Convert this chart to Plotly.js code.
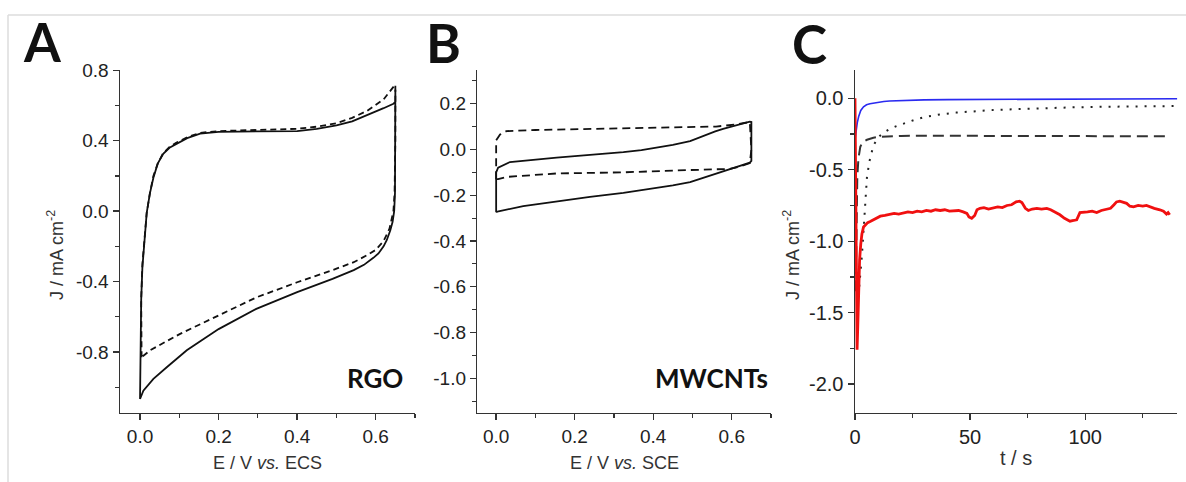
<!DOCTYPE html>
<html>
<head>
<meta charset="utf-8">
<script src="https://cdn.plot.ly/plotly-3.0.1.min.js"></script>
<style>
  html, body { margin: 0; padding: 0; background: #fff; }
  #chart { width: 1186px; height: 482px; }
</style>
</head>
<body>
<div id="chart"></div>
<script>
// ---------- Panel A (RGO) cyclic voltammograms ----------
const rgoSolidE = [0, 0.001, 0.003, 0.006, 0.012, 0.017, 0.025, 0.034, 0.045, 0.059, 0.075, 0.093, 0.12, 0.153, 0.2, 0.25, 0.3, 0.35, 0.4, 0.45, 0.5, 0.54, 0.578, 0.62, 0.645, 0.65,
                   0.65, 0.65, 0.649, 0.647, 0.643, 0.637, 0.628, 0.62, 0.607, 0.594, 0.57, 0.544, 0.49, 0.4, 0.296, 0.2, 0.119, 0.068, 0.034, 0.0085, 0];
const rgoSolidJ = [-1.067, -0.8, -0.5, -0.32, -0.12, -0.01, 0.1, 0.19, 0.27, 0.326, 0.36, 0.383, 0.415, 0.44, 0.45, 0.452, 0.452, 0.452, 0.455, 0.468, 0.487, 0.51, 0.544, 0.585, 0.61, 0.62,
                   0.69, 0.3, 0.1, 0.0, -0.06, -0.11, -0.165, -0.2, -0.24, -0.265, -0.305, -0.335, -0.385, -0.46, -0.555, -0.67, -0.79, -0.887, -0.953, -1.02, -1.067];
const rgoDashE = [0.004, 0.003, 0.006, 0.012, 0.017, 0.025, 0.034, 0.045, 0.059, 0.075, 0.093, 0.12, 0.153, 0.2, 0.25, 0.3, 0.35, 0.4, 0.45, 0.5, 0.54, 0.578, 0.62, 0.65,
                  0.65, 0.648, 0.645, 0.635, 0.62, 0.6, 0.578, 0.544, 0.49, 0.4, 0.296, 0.2, 0.102, 0.026, 0.004];
const rgoDashJ = [-0.83, -0.5, -0.3, -0.12, -0.01, 0.1, 0.2, 0.27, 0.33, 0.365, 0.39, 0.42, 0.445, 0.455, 0.458, 0.46, 0.462, 0.468, 0.48, 0.5, 0.53, 0.57, 0.635, 0.72,
                  0.4, 0.1, 0.0, -0.1, -0.17, -0.22, -0.25, -0.29, -0.335, -0.404, -0.49, -0.593, -0.697, -0.79, -0.83];

// ---------- Panel B (MWCNTs) cyclic voltammograms ----------
const cntSolidE = [0, 0, 0.005, 0.035, 0.154, 0.24, 0.324, 0.37, 0.409, 0.45, 0.494, 0.515, 0.536, 0.558, 0.578, 0.6, 0.62, 0.646, 0.65, 0.65, 0.646, 0.62, 0.578, 0.536, 0.494, 0.45, 0.409, 0.324, 0.239, 0.154, 0.069, 0.006, 0];
const cntSolidJ = [-0.274, -0.1, -0.08, -0.055, -0.036, -0.025, -0.012, -0.003, 0.007, 0.02, 0.036, 0.05, 0.066, 0.079, 0.09, 0.1, 0.11, 0.121, 0.12, -0.05, -0.058, -0.073, -0.095, -0.12, -0.143, -0.157, -0.168, -0.19, -0.207, -0.226, -0.248, -0.27, -0.274];
const cntDashE = [0, 0, 0.01, 0.026, 0.1, 0.239, 0.4, 0.494, 0.56, 0.612, 0.646, 0.65, 0.646, 0.62, 0.595, 0.494, 0.324, 0.154, 0.026, 0.005, 0];
const cntDashJ = [-0.13, 0.04, 0.065, 0.08, 0.085, 0.09, 0.093, 0.097, 0.1, 0.109, 0.12, 0.0, -0.06, -0.075, -0.085, -0.09, -0.1, -0.105, -0.12, -0.13, -0.13];

// ---------- Panel C chronoamperometry ----------
const blueT = [0, 0.5, 1, 1.6, 2.5, 3.7, 5, 6.5, 8, 10, 12.5, 15, 20, 25, 30, 40, 50, 65, 80, 100, 120, 140];
const blueJ = [-0.29, -0.22, -0.17, -0.128, -0.085, -0.059, -0.045, -0.038, -0.033, -0.027, -0.022, -0.019, -0.015, -0.013, -0.011, -0.009, -0.008, -0.006, -0.005, -0.004, -0.003, -0.003];

const redT = [0, 0.3, 0.6, 0.9, 1.2, 1.6, 2.0, 2.5, 3.0, 3.7, 4.5, 5.5, 6.6, 8, 9.5, 11, 13, 15, 17, 19, 21, 23, 25, 27, 29, 31, 33, 35, 37, 39, 41, 43, 45, 47, 48.6, 49.5, 50.7, 52, 53, 54.3,
              56, 58, 60, 62, 64, 66, 68, 70, 71.5, 72.5, 74, 75.3, 77, 79, 81, 83.3, 85, 87.6, 89, 91, 93.4, 95, 96.3, 97.7, 99, 101, 103, 105, 107, 109.3, 111, 112.5, 113.6, 115, 116.5,
              118, 119.4, 121, 123, 125, 126.6, 128, 130, 132.4, 134, 135.3, 136, 136.7];
const redJ = [0, -0.6, -1.3, -1.76, -1.6, -1.3, -1.13, -1.02, -0.95, -0.9, -0.885, -0.87, -0.862, -0.85, -0.835, -0.825, -0.82, -0.81, -0.805, -0.81, -0.8, -0.795, -0.8, -0.79, -0.795, -0.785,
              -0.79, -0.78, -0.785, -0.78, -0.79, -0.785, -0.785, -0.795, -0.805, -0.83, -0.84, -0.82, -0.78, -0.77, -0.765, -0.775, -0.77, -0.76, -0.765, -0.75, -0.745, -0.725, -0.72, -0.73,
              -0.77, -0.785, -0.775, -0.77, -0.775, -0.77, -0.78, -0.8, -0.815, -0.84, -0.86, -0.855, -0.85, -0.8, -0.8, -0.795, -0.79, -0.8, -0.785, -0.775, -0.77, -0.745, -0.725, -0.72,
              -0.73, -0.735, -0.755, -0.76, -0.75, -0.755, -0.75, -0.76, -0.77, -0.78, -0.79, -0.81, -0.8, -0.815];

const dotT = [1.5, 2, 2.5, 3, 3.5, 4, 4.5, 5.2, 6.3, 7, 8, 9.5, 11, 13, 15, 18, 22.5, 26, 31, 36, 44, 52, 60, 70, 80, 95, 110, 125, 140];
const dotJ = [-1.38, -1.3, -1.2, -1.1, -0.98, -0.84, -0.7, -0.55, -0.44, -0.39, -0.33, -0.29, -0.26, -0.235, -0.215, -0.195, -0.171, -0.15, -0.129, -0.115, -0.1, -0.09, -0.082, -0.076, -0.07, -0.063, -0.059, -0.056, -0.054];

const dashT = [0.3, 0.5, 0.7, 1, 1.5, 2.3, 3, 4, 5.2, 6.5, 8, 10, 15, 20, 30, 40, 60, 80, 100, 120, 137];
const dashJ = [-1.35, -1.1, -0.8, -0.55, -0.42, -0.34, -0.315, -0.3, -0.29, -0.282, -0.276, -0.271, -0.265, -0.263, -0.262, -0.262, -0.263, -0.263, -0.264, -0.265, -0.266];

// ---------- tick labels ----------
const tickA_y = [0.8, 0.4, 0.0, -0.4, -0.8];
const tickA_yText = ['0.8', '0.4', '0.0', '-0.4', '-0.8'];
const tickE = [0, 0.2, 0.4, 0.6];
const tickE_text = ['0.0', '0.2', '0.4', '0.6'];
const tickB_y = [0.2, 0.0, -0.2, -0.4, -0.6, -0.8, -1.0];
const tickB_yText = ['0.2', '0.0', '-0.2', '-0.4', '-0.6', '-0.8', '-1.0'];
const tickC_y = [0.0, -0.5, -1.0, -1.5, -2.0];
const tickC_yText = ['0.0', '-0.5', '-1.0', '-1.5', '-2.0'];
const tickC_x = [0, 50, 100];
const tickC_xText = ['0', '50', '100'];

// ---------- layout helpers ----------
const W = 1186, H = 482;
const px = v => v / W;
const py = v => 1 - v / H;
const axisColor = '#333';
const tickFont = { family: 'Liberation Sans, Arial, sans-serif', size: 19, color: '#222' };
const titleFont = { family: 'Liberation Sans, Arial, sans-serif', size: 18, color: '#333' };
const labelFont = { family: 'Lato, Open Sans, sans-serif', size: 53, color: '#111', weight: 'bold' };
const tagFont = { family: 'Lato, Open Sans, sans-serif', size: 26, color: '#111', weight: 'bold' };

function baseAxis(extra) {
  return Object.assign({
    showline: true, linecolor: axisColor, linewidth: 1.5, mirror: false,
    showgrid: false, zeroline: false,
    ticks: 'outside', ticklen: 6, tickwidth: 1.4, tickcolor: axisColor,
    tickfont: tickFont, fixedrange: true
  }, extra);
}

const traces = [
  { x: rgoSolidE, y: rgoSolidJ, xaxis: 'x', yaxis: 'y', mode: 'lines', line: { color: '#111', width: 1.8 }, hoverinfo: 'skip' },
  { x: rgoDashE, y: rgoDashJ, xaxis: 'x', yaxis: 'y', mode: 'lines', line: { color: '#111', width: 1.8, dash: '6px,4px' }, hoverinfo: 'skip' },
  { x: cntSolidE, y: cntSolidJ, xaxis: 'x2', yaxis: 'y2', mode: 'lines', line: { color: '#111', width: 1.8 }, hoverinfo: 'skip' },
  { x: cntDashE, y: cntDashJ, xaxis: 'x2', yaxis: 'y2', mode: 'lines', line: { color: '#111', width: 1.8, dash: '8px,5px' }, hoverinfo: 'skip' },
  { x: dotT, y: dotJ, xaxis: 'x3', yaxis: 'y3', mode: 'lines', line: { color: '#222', width: 2, dash: '2px,7px' }, hoverinfo: 'skip' },
  { x: dashT, y: dashJ, xaxis: 'x3', yaxis: 'y3', mode: 'lines', line: { color: '#333', width: 2, dash: '11px,6px' }, hoverinfo: 'skip' },
  { x: blueT, y: blueJ, xaxis: 'x3', yaxis: 'y3', mode: 'lines', line: { color: '#2a2af0', width: 1.6 }, hoverinfo: 'skip' },
  { x: redT, y: redJ, xaxis: 'x3', yaxis: 'y3', mode: 'lines', line: { color: '#f01010', width: 2.8 }, hoverinfo: 'skip' }
];

const layout = {
  width: W, height: H,
  margin: { l: 0, r: 0, t: 0, b: 0 },
  paper_bgcolor: '#fff', plot_bgcolor: 'rgba(0,0,0,0)',
  showlegend: false,
  xaxis: baseAxis({ domain: [px(120), px(415)], anchor: 'y', range: [-0.051, 0.70], tickvals: tickE, ticktext: tickE_text,
                    minor: { ticks: 'outside', ticklen: 4, tickwidth: 1.2, tickcolor: axisColor, dtick: 0.1, tick0: 0 } }),
  yaxis: baseAxis({ domain: [py(412.7), py(70)], anchor: 'x', range: [-1.145, 0.802], tickvals: tickA_y, ticktext: tickA_yText,
                    minor: { ticks: 'outside', ticklen: 4, tickwidth: 1.2, tickcolor: axisColor, dtick: 0.2, tick0: 0 } }),
  xaxis2: baseAxis({ domain: [px(477.3), px(771)], anchor: 'y2', range: [-0.048, 0.70], tickvals: tickE, ticktext: tickE_text,
                    minor: { ticks: 'outside', ticklen: 4, tickwidth: 1.2, tickcolor: axisColor, dtick: 0.1, tick0: 0 } }),
  yaxis2: baseAxis({ domain: [py(412.7), py(70)], anchor: 'x2', range: [-1.15, 0.347], tickvals: tickB_y, ticktext: tickB_yText,
                    minor: { ticks: 'outside', ticklen: 4, tickwidth: 1.2, tickcolor: axisColor, dtick: 0.1, tick0: 0 } }),
  xaxis3: baseAxis({ domain: [px(855), px(1177.3)], anchor: 'y3', range: [0, 140], tickvals: tickC_x, ticktext: tickC_xText,
                    tickfont: Object.assign({}, tickFont, { size: 20 }),
                    minor: { ticks: 'outside', ticklen: 4, tickwidth: 1.2, tickcolor: axisColor, dtick: 25, tick0: 0 } }),
  yaxis3: baseAxis({ domain: [py(412.7), py(70)], anchor: 'x3', range: [-2.2, 0.198], tickvals: tickC_y, ticktext: tickC_yText,
                    tickfont: Object.assign({}, tickFont, { size: 20 }),
                    minor: { ticks: 'outside', ticklen: 4, tickwidth: 1.2, tickcolor: axisColor, dtick: 0.25, tick0: 0 } }),
  shapes: [
    { type: 'line', xref: 'paper', yref: 'paper', x0: px(8), x1: 1, y0: py(15), y1: py(15), line: { color: '#dcdcdc', width: 1.5 } },
    { type: 'line', xref: 'paper', yref: 'paper', x0: px(8), x1: px(8), y0: py(15), y1: 0, line: { color: '#dcdcdc', width: 1.5 } }
  ],
  annotations: [
    { text: 'A', x: px(42), y: py(41), xref: 'paper', yref: 'paper', xanchor: 'center', yanchor: 'middle', showarrow: false, font: labelFont },
    { text: 'B', x: px(443), y: py(42), xref: 'paper', yref: 'paper', xanchor: 'center', yanchor: 'middle', showarrow: false, font: labelFont },
    { text: 'C', x: px(809), y: py(43), xref: 'paper', yref: 'paper', xanchor: 'center', yanchor: 'middle', showarrow: false, font: labelFont },
    { text: 'RGO', x: px(375), y: py(378), xref: 'paper', yref: 'paper', xanchor: 'center', yanchor: 'middle', showarrow: false, font: tagFont },
    { text: 'MWCNTs', x: px(711), y: py(378), xref: 'paper', yref: 'paper', xanchor: 'center', yanchor: 'middle', showarrow: false, font: tagFont },
    { text: 'J / mA cm<sup>-2</sup>', x: px(55), y: py(255), xref: 'paper', yref: 'paper', xanchor: 'center', yanchor: 'middle', textangle: -90, showarrow: false, font: titleFont },
    { text: 'J / mA cm<sup>-2</sup>', x: px(791), y: py(255), xref: 'paper', yref: 'paper', xanchor: 'center', yanchor: 'middle', textangle: -90, showarrow: false, font: titleFont },
    { text: 'E / V <i>vs.</i> ECS', x: px(267), y: py(463), xref: 'paper', yref: 'paper', xanchor: 'center', yanchor: 'middle', showarrow: false, font: titleFont },
    { text: 'E / V <i>vs.</i> SCE', x: px(624), y: py(463), xref: 'paper', yref: 'paper', xanchor: 'center', yanchor: 'middle', showarrow: false, font: titleFont },
    { text: 't / s', x: px(1016), y: py(458), xref: 'paper', yref: 'paper', xanchor: 'center', yanchor: 'middle', showarrow: false, font: Object.assign({}, titleFont, { size: 20 }) }
  ]
};

Plotly.newPlot('chart', traces, layout, { staticPlot: true, displayModeBar: false });
</script>
</body>
</html>
